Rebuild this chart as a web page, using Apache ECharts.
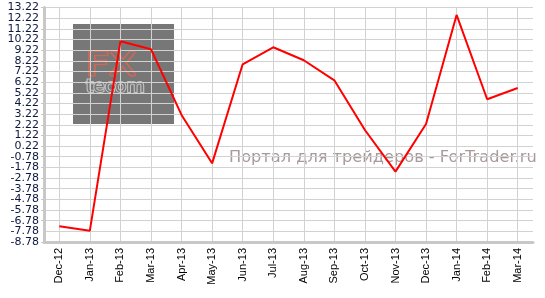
<!DOCTYPE html>
<html><head><meta charset="utf-8">
<script src="https://cdn.jsdelivr.net/npm/echarts@6/dist/echarts.min.js"></script>
<style>html,body{margin:0;padding:0;background:#fff}#c{width:545px;height:298px;background:#fff}</style>
</head><body><div id="c"></div>
<script>
const categories = ['Dec-12','Jan-13','Feb-13','Mar-13','Apr-13','May-13','Jun-13','Jul-13','Aug-13','Sep-13','Oct-13','Nov-13','Dec-13','Jan-14','Feb-14','Mar-14'];
const values = [-7.31, -7.72, 10.05, 9.30, 3.14, -1.40, 7.89, 9.49, 8.27, 6.39, 1.73, -2.18, 2.29, 12.52, 4.61, 5.67];
const yMin = -8.78, yMax = 13.22, yStep = 1;
const watermark = 'Портал для трейдеров - ForTrader.ru';

const labelStyle = {color:'#0c1840', fontFamily:'DejaVu Sans', fontSize:11, margin:5};
const chart = echarts.init(document.getElementById('c'), null, {renderer:'canvas'});
chart.setOption({
  animation:false,
  grid:{left:44, right:12, top:7.5, bottom:56},
  xAxis:{
    type:'category', data:categories, boundaryGap:true, zlevel:1,
    axisLine:{onZero:false, lineStyle:{color:'#c8c8c8', width:3}},
    axisTick:{alignWithLabel:true, length:5, lineStyle:{color:'#c8c8c8'}},
    splitLine:{show:true, alignWithLabel:true, lineStyle:{color:'#d2d2d2', width:1}},
    axisLabel:{rotate:90, interval:0, color:'#000', fontFamily:'Liberation Sans', fontSize:11, margin:6}
  },
  yAxis:[{
    type:'value', min:yMin, max:yMax, interval:yStep, zlevel:1,
    axisLine:{show:true, lineStyle:{color:'#c8c8c8', width:3}},
    axisTick:{show:true, length:3, lineStyle:{color:'#c8c8c8'}},
    splitLine:{lineStyle:{color:'#d2d2d2', width:1}},
    axisLabel:Object.assign({formatter:v=>v.toFixed(2), showMinLabel:true, showMaxLabel:true, hideOverlap:false}, labelStyle)
  },{
    type:'value', min:yMin, max:yMax, interval:yStep, position:'left', zlevel:1,
    axisLine:{show:false}, axisTick:{show:false}, splitLine:{show:false},
    axisLabel:Object.assign({showMinLabel:false, showMaxLabel:false,
      formatter:v=>{const s=v.toFixed(2); return (s==='-7.78'||s==='12.22')?s:'';}}, labelStyle)
  }],
  graphic:{
    zlevel:-1, z:0,
    elements:[
      {type:'rect', zlevel:-1, silent:true, shape:{x:73, y:24, width:101, height:100}, style:{fill:'#777777'}},
      {type:'text', zlevel:-1, z:1, silent:true, x:86, y:51, scaleX:1.25, style:{text:'FX', font:'32px "DejaVu Sans"', fill:'#777777', stroke:'#c86a58', lineWidth:3}},
      {type:'text', zlevel:-1, z:1, silent:true, x:86, y:79, scaleX:1.1, style:{text:'tecom', font:'17px "DejaVu Sans"', fill:'#777777', stroke:'#c4c4c4', lineWidth:2}},
      {type:'text', zlevel:-1, z:1, silent:true, left:229, top:150, style:{text:watermark, font:'16.2px "DejaVu Sans"', fill:'#a89a9a'}}
    ]
  },
  series:[{
    type:'line', data:values, showSymbol:false, symbol:'none', zlevel:2, yAxisIndex:0,
    lineStyle:{color:'#ff0000', width:2}
  }]
});
</script></body></html>
